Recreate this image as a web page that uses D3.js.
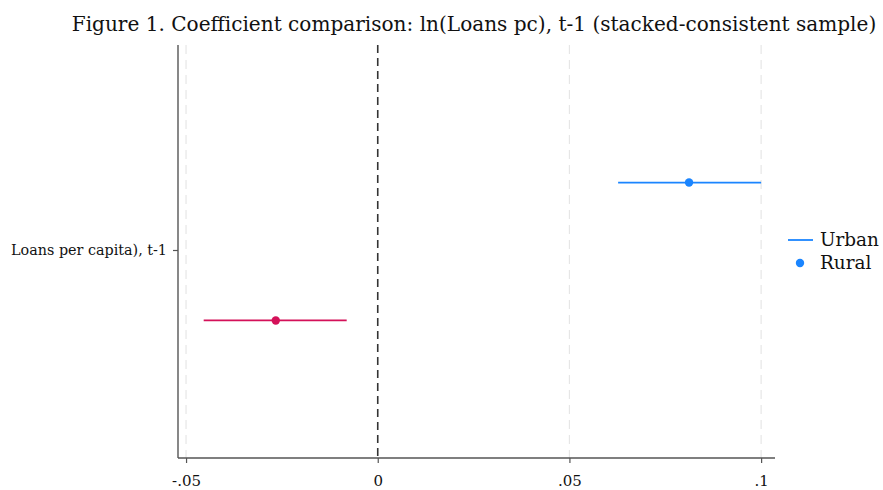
<!DOCTYPE html>
<html>
<head>
<meta charset="utf-8">
<script src="https://cdn.jsdelivr.net/npm/d3@7"></script>
<style>
  body { margin: 0; background: #fff; }
  text { font-family: "DejaVu Serif", "Liberation Serif", serif; fill: #111; }
</style>
</head>
<body>
<svg width="883" height="490"></svg>
<script>
// coefficient estimates with 95% CI
var series = ["Urban", "Rural"]
  , colors = ["#1a85ff", "#d41159"]
  , coef = [0.0812, -0.0266]
  , lo = [0.0627, -0.0454]
  , hi = [0.1000, -0.0081]
  , offsets = [-0.334, 0.334]
  , xTicks = [-0.05, 0, 0.05, 0.1]
  , xTickLabels = ["-.05", "0", ".05", ".1"]
  , yLabel = "Loans per capita), t-1";

var svg = d3.select("svg")
  , margin = {left: 178, right: 110, top: 45, bottom: 32}
  , W = 883, H = 490;

var x = d3.scaleLinear().domain([-0.0521, 0.1031]).range([margin.left, W - margin.right]);
var y = d3.scaleLinear().domain([-1, 1]).range([margin.top, H - margin.bottom]);

// fit a text to a target width by adjusting font size
function fitWidth(sel, target) {
  var w = sel.node().getComputedTextLength();
  var fs = parseFloat(sel.style("font-size"));
  sel.style("font-size", (fs * target / w) + "px");
}

var title = svg.append("text")
  .attr("x", 474).attr("y", 31)
  .attr("text-anchor", "middle")
  .style("font-size", "20px")
  .text("Figure 1. Coefficient comparison: ln(Loans pc), t-1 (stacked-consistent sample)");
fitWidth(title, 805);

// grid lines
svg.append("g").selectAll("line")
  .data(xTicks.filter(function(d){ return d !== 0; }))
  .enter().append("line")
    .attr("x1", function(d){ return x(d); })
    .attr("x2", function(d){ return x(d); })
    .attr("y1", margin.top).attr("y2", H - margin.bottom)
    .attr("stroke", "#e6e6e6").attr("stroke-width", 1.2)
    .attr("stroke-dasharray", "9,6");

// zero line
svg.append("line")
  .attr("x1", x(0)).attr("x2", x(0))
  .attr("y1", margin.top).attr("y2", H - margin.bottom)
  .attr("stroke", "#333").attr("stroke-width", 1.6)
  .attr("stroke-dasharray", "8,5");

// axes
var xAxis = d3.axisBottom(x).tickValues(xTicks)
  .tickFormat(function(d, i){ return xTickLabels[i]; })
  .tickSize(5).tickPadding(12);
var gx = svg.append("g").attr("transform", "translate(0," + (H - margin.bottom) + ")").call(xAxis);
gx.select(".domain").attr("d", "M" + margin.left + ",0H" + (W - margin.right + 2)).attr("stroke", "#555").attr("stroke-width", 1.4);
gx.selectAll(".tick line").attr("stroke", "#555").attr("stroke-width", 1.2);
gx.selectAll("text").style("font-size", "15px").style("font-family", "DejaVu Serif, serif").attr("fill", "#111");

var yAxis = d3.axisLeft(y).tickValues([0]).tickFormat(function(){ return yLabel; }).tickSize(5).tickPadding(6);
var gy = svg.append("g").attr("transform", "translate(" + margin.left + ",-1.5)").call(yAxis);
gy.select(".domain").attr("d", "M0," + (margin.top + 1.5) + "V" + (H - margin.bottom + 1.5)).attr("stroke", "#555").attr("stroke-width", 1.4);
gy.selectAll(".tick line").attr("stroke", "#555").attr("stroke-width", 1.2);
var yl = gy.selectAll("text").style("font-size", "13px").style("font-family", "DejaVu Serif, serif").attr("fill", "#111");
fitWidth(yl, 156);

// CI lines and points
var rows = series.map(function(s, i){ return {s: s, c: coef[i], lo: lo[i], hi: hi[i], o: offsets[i], col: colors[i]}; });
var g = svg.append("g");
g.selectAll("line.ci").data(rows).enter().append("line")
  .attr("class", "ci")
  .attr("x1", function(d){ return x(d.lo); })
  .attr("x2", function(d){ return x(d.hi); })
  .attr("y1", function(d){ return y(d.o); })
  .attr("y2", function(d){ return y(d.o); })
  .attr("stroke", function(d){ return d.col; }).attr("stroke-width", 1.8);
g.selectAll("circle").data(rows).enter().append("circle")
  .attr("cx", function(d){ return x(d.c); })
  .attr("cy", function(d){ return y(d.o); })
  .attr("r", 4.2)
  .attr("fill", function(d){ return d.col; });

// legend
var lg = svg.append("g").attr("transform", "translate(788,240)");
lg.append("line").attr("x1", 0).attr("x2", 25).attr("y1", 0).attr("y2", 0)
  .attr("stroke", colors[0]).attr("stroke-width", 1.8);
var t1 = lg.append("text").attr("x", 32).attr("y", 6).style("font-size", "15px").text(series[0]);
fitWidth(t1, 59);
lg.append("circle").attr("cx", 12).attr("cy", 23).attr("r", 4.2).attr("fill", colors[0]);
lg.append("text").attr("x", 32).attr("y", 29).style("font-size", t1.style("font-size")).text(series[1]);
</script>
</body>
</html>
